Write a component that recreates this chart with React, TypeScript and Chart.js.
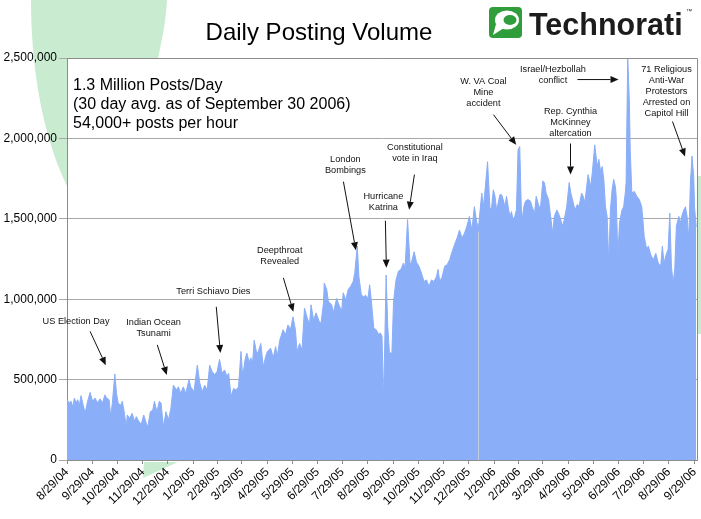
import { useEffect, useRef } from "react";
import { Chart, registerables } from "chart.js";

Chart.register(...registerables);

const FONT = '"Liberation Sans", Arial, Helvetica, sans-serif';

const tickLabels = [
  "8/29/04", "9/29/04", "10/29/04", "11/29/04", "12/29/04", "1/29/05", "2/28/05",
  "3/29/05", "4/29/05", "5/29/05", "6/29/05", "7/29/05", "8/29/05", "9/29/05",
  "10/29/05", "11/29/05", "12/29/05", "1/29/06", "2/28/06", "3/29/06", "4/29/06",
  "5/29/06", "6/29/06", "7/29/06", "8/29/06", "9/29/06",
];
// days since 8/29/04 for each tick label
const tickDays = [
  0, 31, 61, 92, 122, 153, 183, 212, 243, 273, 304, 334, 365, 396, 426, 457, 487,
  518, 548, 577, 608, 638, 669, 699, 730, 761,
];

// day index (days since 8/29/04)
const days = [
  0, 3, 5, 7, 9, 11, 13, 15, 17, 19, 22, 25, 28, 31, 34, 37, 40, 43, 46, 48, 51, 53, 55, 58, 60,
  62, 65, 67, 69, 72, 73, 76, 79, 82, 84, 86, 90, 93, 96, 98, 101, 104, 106, 109, 112, 114, 117,
  120, 123, 126, 129, 133, 135, 138, 141, 144, 148, 150, 154, 158, 161, 164, 167, 170, 173, 176,
  179, 182, 185, 188, 191, 194, 196, 199, 202, 205, 208, 211, 213, 216, 218, 221, 223, 225, 227,
  230, 232, 235, 238, 241, 243, 247, 250, 253, 255, 258, 262, 265, 268, 271, 274, 277, 279, 282,
  285, 288, 291, 294, 296, 299, 302, 306, 308, 311, 312, 315, 317, 321, 323, 327, 329, 333, 335,
  338, 341, 344, 347, 349, 352, 354, 357, 360, 362, 365, 367, 369, 372, 375, 378, 380, 382, 384,
  387, 389, 391, 394, 396, 399, 402, 405, 408, 410, 413, 416, 418, 421, 424, 426, 429, 433, 436,
  439, 442, 445, 448, 450, 452, 455, 458, 461, 464, 467, 470, 473, 476, 479, 482, 485, 488, 491,
  494, 497, 499, 501, 503, 505, 507, 510, 513, 515, 517, 519, 521, 523, 525, 527, 529, 531, 533,
  535, 537, 539, 541, 543, 545, 547, 549, 551, 552, 554, 556, 559, 562, 564, 567, 569, 571, 574,
  577, 579, 581, 584, 586, 589, 591, 594, 596, 598, 601, 603, 606, 609, 611, 614, 616, 619, 621,
  624, 626, 628, 631, 632, 635, 637, 640, 643, 645, 647, 649, 651, 653, 655, 657, 659, 661, 663,
  665, 666, 668, 670, 673, 675, 677, 678, 680, 682, 683, 685, 688, 691, 694, 697, 700, 703, 705,
  708, 711, 714, 717, 720, 722, 724, 727, 729, 731, 733, 735, 737, 739, 742, 744, 746, 748, 750,
  752, 754, 756, 758, 760, 761, 763,
];

// daily posts
const posts = [
  375000, 355000, 365000, 330000, 385000, 355000, 375000, 340000, 400000, 355000, 290000, 365000,
  420000, 365000, 385000, 355000, 380000, 355000, 405000, 385000, 375000, 270000, 355000, 535000,
  415000, 355000, 340000, 365000, 310000, 205000, 280000, 260000, 290000, 240000, 270000, 250000,
  220000, 280000, 230000, 205000, 300000, 310000, 365000, 300000, 365000, 355000, 205000, 300000,
  250000, 320000, 465000, 435000, 455000, 415000, 455000, 415000, 500000, 455000, 425000, 590000,
  480000, 425000, 465000, 435000, 590000, 550000, 530000, 550000, 625000, 540000, 560000, 520000,
  540000, 395000, 445000, 435000, 455000, 675000, 520000, 625000, 665000, 610000, 635000, 600000,
  745000, 665000, 675000, 725000, 580000, 645000, 675000, 695000, 635000, 705000, 645000, 745000,
  810000, 780000, 840000, 810000, 890000, 810000, 675000, 725000, 685000, 945000, 890000, 840000,
  965000, 870000, 915000, 860000, 850000, 975000, 1100000, 1060000, 985000, 965000, 915000,
  1005000, 975000, 925000, 1040000, 995000, 1060000, 1080000, 1110000, 1165000, 1330000, 1140000,
  1025000, 1015000, 1025000, 1005000, 1090000, 995000, 820000, 810000, 780000, 790000, 770000,
  375000, 1150000, 830000, 665000, 665000, 985000, 1120000, 1175000, 1185000, 1225000, 1195000,
  1495000, 1215000, 1235000, 1295000, 1225000, 1215000, 1175000, 1110000, 1120000, 1080000,
  1120000, 1110000, 1140000, 1185000, 1110000, 1140000, 1205000, 1215000, 1245000, 1295000,
  1340000, 1380000, 1430000, 1380000, 1410000, 1455000, 1515000, 1430000, 1575000, 1475000,
  1445000, 1555000, 1660000, 1575000, 1680000, 1855000, 1555000, 1575000, 1680000, 1640000,
  1555000, 1600000, 1650000, 1650000, 1620000, 1575000, 1640000, 1575000, 1515000, 1545000,
  1495000, 1515000, 1555000, 1930000, 1950000, 1555000, 1495000, 1575000, 1610000, 1620000,
  1610000, 1575000, 1535000, 1640000, 1600000, 1555000, 1735000, 1725000, 1660000, 1620000,
  1535000, 1410000, 1515000, 1555000, 1535000, 1505000, 1455000, 1495000, 1575000, 1725000,
  1660000, 1600000, 1555000, 1590000, 1575000, 1660000, 1640000, 1600000, 1735000, 1775000,
  1700000, 1785000, 1960000, 1825000, 1870000, 1795000, 1825000, 1745000, 1575000, 1515000,
  1225000, 1555000, 1680000, 1745000, 1700000, 1640000, 1265000, 1475000, 1555000, 1575000,
  1660000, 1725000, 2500000, 2220000, 1930000, 1660000, 1670000, 1640000, 1620000, 1575000,
  1390000, 1310000, 1330000, 1275000, 1245000, 1285000, 1225000, 1205000, 1330000, 1225000,
  1285000, 1310000, 1535000, 1205000, 1100000, 1185000, 1455000, 1515000, 1475000, 1525000,
  1555000, 1575000, 1515000, 1370000, 1725000, 1890000, 1765000, 1575000, 1450000,
];

const yTicks = [0, 500000, 1000000, 1500000, 2000000, 2500000];

const seamDay = 499;

type Note = { lines: string[]; at: [number, number]; from: [number, number]; to: [number, number] };
const notes: Note[] = [
  { lines: ["US Election Day"], at: [11, 860000], from: [28, 800000], to: [47, 590000] },
  { lines: ["Indian Ocean", "Tsunami"], at: [105, 853000], from: [109.5, 716000], to: [121, 529000] },
  { lines: ["Terri Schiavo Dies"], at: [177.5, 1046000], from: [181, 953000], to: [186, 666000] },
  { lines: ["Deepthroat", "Revealed"], at: [258, 1301000], from: [262.4, 1133000], to: [274.5, 922000] },
  { lines: ["London", "Bombings"], at: [337.6, 1868000], from: [335.2, 1731000], to: [350.3, 1305000] },
  { lines: ["Hurricane", "Katrina"], at: [383.7, 1638000], from: [386.1, 1488000], to: [387.3, 1196000] },
  { lines: ["Constitutional", "vote in Iraq"], at: [421.9, 1943000], from: [421.3, 1775000], to: [414.9, 1557000] },
  { lines: ["W. VA Coal", "Mine", "accident"], at: [505, 2354000], from: [517.1, 2148000], to: [544.7, 1961000] },
  { lines: ["Israel/Hezbollah", "conflict"], at: [589.3, 2428000], from: [619, 2366000], to: [668.8, 2366000] },
  { lines: ["Rep. Cynthia", "McKinney", "altercation"], at: [610.6, 2167000], from: [610.6, 1968000], to: [610.6, 1775000] },
  {
    lines: ["71 Religious", "Anti-War", "Protestors", "Arrested on", "Capitol Hill"],
    at: [727, 2428000], from: [734.3, 2105000], to: [749.5, 1887000],
  },
];

const infoLines = [
  "1.3 Million Posts/Day",
  "(30 day avg. as of September 30 2006)",
  "54,000+ posts per hour",
];

function drawArrow(ctx: CanvasRenderingContext2D, x1: number, y1: number, x2: number, y2: number) {
  const ang = Math.atan2(y2 - y1, x2 - x1);
  const hl = 8;
  const hw = 3.5;
  const bx = x2 - hl * Math.cos(ang);
  const by = y2 - hl * Math.sin(ang);
  ctx.beginPath();
  ctx.moveTo(x1, y1);
  ctx.lineTo(bx, by);
  ctx.stroke();
  ctx.beginPath();
  ctx.moveTo(x2, y2);
  ctx.lineTo(bx + hw * Math.sin(ang), by - hw * Math.cos(ang));
  ctx.lineTo(bx - hw * Math.sin(ang), by + hw * Math.cos(ang));
  ctx.closePath();
  ctx.fill();
}

const decoPlugin = {
  id: "deco",
  beforeDraw(chart: any) {
    const { ctx, chartArea: a, width, height } = chart;
    ctx.save();
    ctx.fillStyle = "#ffffff";
    ctx.fillRect(0, 0, width, height);
    // background slide decoration (light green swoosh)
    ctx.fillStyle = "#c9ebd0";
    ctx.beginPath();
    ctx.moveTo(31, 0);
    ctx.bezierCurveTo(31, 60, 40, 130, 67, 186);
    ctx.lineTo(160, 186);
    ctx.lineTo(158, 58);
    ctx.bezierCurveTo(162, 40, 166, 20, 167, 0);
    ctx.closePath();
    ctx.fill();
    ctx.fillRect(698, 176, 3, 158);
    ctx.beginPath();
    ctx.moveTo(143, 478);
    ctx.lineTo(144, 462);
    ctx.lineTo(178, 462);
    ctx.closePath();
    ctx.fill();
    ctx.fillStyle = "#ffffff";
    ctx.fillRect(a.left, a.top, a.right - a.left, a.bottom - a.top);
    ctx.restore();
  },
  afterDatasetsDraw(chart: any) {
    const { ctx, scales } = chart;
    const x = scales.x;
    const y = scales.y;
    const i = days.indexOf(seamDay);
    if (i >= 0) {
      const px = Math.round(x.getPixelForValue(seamDay)) + 0.5;
      ctx.save();
      ctx.strokeStyle = "rgba(196,204,222,1)";
      ctx.lineWidth = 1;
      ctx.beginPath();
      ctx.moveTo(px, y.getPixelForValue(0));
      ctx.lineTo(px, y.getPixelForValue(posts[i]) + 4);
      ctx.stroke();
      ctx.restore();
    }
  },
  afterDraw(chart: any) {
    const { ctx, chartArea: a, scales } = chart;
    const x = scales.x;
    const y = scales.y;
    ctx.save();
    // frame top / right
    ctx.strokeStyle = "#8c8c8c";
    ctx.lineWidth = 1;
    ctx.beginPath();
    ctx.moveTo(a.left, Math.round(a.top) + 0.5);
    ctx.lineTo(Math.round(a.right) + 0.5, Math.round(a.top) + 0.5);
    ctx.lineTo(Math.round(a.right) + 0.5, a.bottom);
    ctx.stroke();

    // annotations
    ctx.fillStyle = "#111111";
    ctx.strokeStyle = "#111111";
    ctx.font = `9.2px ${FONT}`;
    ctx.textAlign = "center";
    ctx.textBaseline = "middle";
    for (const n of notes) {
      const tx = x.getPixelForValue(n.at[0]);
      const ty = y.getPixelForValue(n.at[1]);
      n.lines.forEach((l, k) => ctx.fillText(l, tx, ty + k * 11));
      drawArrow(
        ctx,
        x.getPixelForValue(n.from[0]), y.getPixelForValue(n.from[1]),
        x.getPixelForValue(n.to[0]), y.getPixelForValue(n.to[1]),
      );
    }

    // info text
    ctx.textAlign = "left";
    ctx.fillStyle = "#000000";
    ctx.font = `16px ${FONT}`;
    infoLines.forEach((l, k) => ctx.fillText(l, a.left + 6, a.top + 28 + k * 19));

    // title
    ctx.textAlign = "center";
    ctx.textBaseline = "alphabetic";
    ctx.font = `24px ${FONT}`;
    ctx.fillText("Daily Posting Volume", 319, 40);

    // Technorati logo
    ctx.fillStyle = "#2f9d3b";
    ctx.beginPath();
    (ctx as any).roundRect(489, 7, 33, 31, 4);
    ctx.fill();
    ctx.fillStyle = "#ffffff";
    ctx.beginPath();
    ctx.ellipse(507, 20, 12, 9.5, 0, 0, Math.PI * 2);
    ctx.fill();
    ctx.beginPath();
    ctx.moveTo(496, 24);
    ctx.lineTo(493, 35);
    ctx.lineTo(504, 28);
    ctx.closePath();
    ctx.fill();
    ctx.fillStyle = "#2f9d3b";
    ctx.beginPath();
    ctx.ellipse(510, 20, 6.5, 5, 0, 0, Math.PI * 2);
    ctx.fill();
    ctx.fillStyle = "#1c1c1c";
    ctx.textAlign = "left";
    ctx.font = `bold 30.5px ${FONT}`;
    ctx.fillText("Technorati", 529, 35);
    ctx.font = `6px ${FONT}`;
    ctx.fillText("\u2122", 686, 13);
    ctx.restore();
  },
};

export default function App() {
  const ref = useRef<HTMLCanvasElement>(null);
  useEffect(() => {
    document.body.style.margin = "0";
    const canvas = ref.current;
    if (!canvas) return;
    const chart = new Chart(canvas, {
      type: "line",
      data: {
        datasets: [
          {
            data: days.map((d, i) => ({ x: d, y: posts[i] })),
            fill: "origin",
            backgroundColor: "rgb(138,174,248)",
            borderColor: "rgb(138,174,248)",
            borderWidth: 1,
            pointRadius: 0,
            tension: 0,
          },
        ],
      },
      options: {
        animation: false,
        responsive: false,
        devicePixelRatio: 1,
        events: [],
        layout: { padding: { top: 58, right: 4, left: 0, bottom: 0 } },
        plugins: { legend: { display: false }, tooltip: { enabled: false }, title: { display: false } },
        scales: {
          x: {
            type: "linear",
            min: 0,
            max: 764,
            afterBuildTicks: (s: any) => {
              s.ticks = tickDays.map((v) => ({ value: v }));
            },
            afterFit: (s: any) => {
              s.height = 59;
              s.paddingLeft = 0;
              s.paddingRight = 0;
            },
            ticks: {
              autoSkip: false,
              maxRotation: 45,
              minRotation: 45,
              color: "#000",
              padding: 1,
              font: { family: FONT, size: 12 },
              callback: (_v: any, i: number) => tickLabels[i],
            },
            grid: { drawOnChartArea: false, drawTicks: true, tickLength: 4, color: "#8c8c8c" },
            border: { color: "#8c8c8c" },
          },
          y: {
            min: 0,
            max: 2500000,
            afterBuildTicks: (s: any) => {
              s.ticks = yTicks.map((v) => ({ value: v }));
            },
            afterFit: (s: any) => {
              s.width = 67;
            },
            ticks: {
              color: "#000",
              padding: 2,
              font: { family: FONT, size: 12 },
              callback: (v: any) => Number(v).toLocaleString("en-US"),
            },
            grid: { color: "#a8a8a8", tickLength: 8 },
            border: { color: "#8c8c8c" },
          },
        },
      },
      plugins: [decoPlugin],
    });
    return () => chart.destroy();
  }, []);
  return (
    <div style={{ width: 701, height: 519 }}>
      <canvas ref={ref} width={701} height={519} style={{ display: "block" }} />
    </div>
  );
}
